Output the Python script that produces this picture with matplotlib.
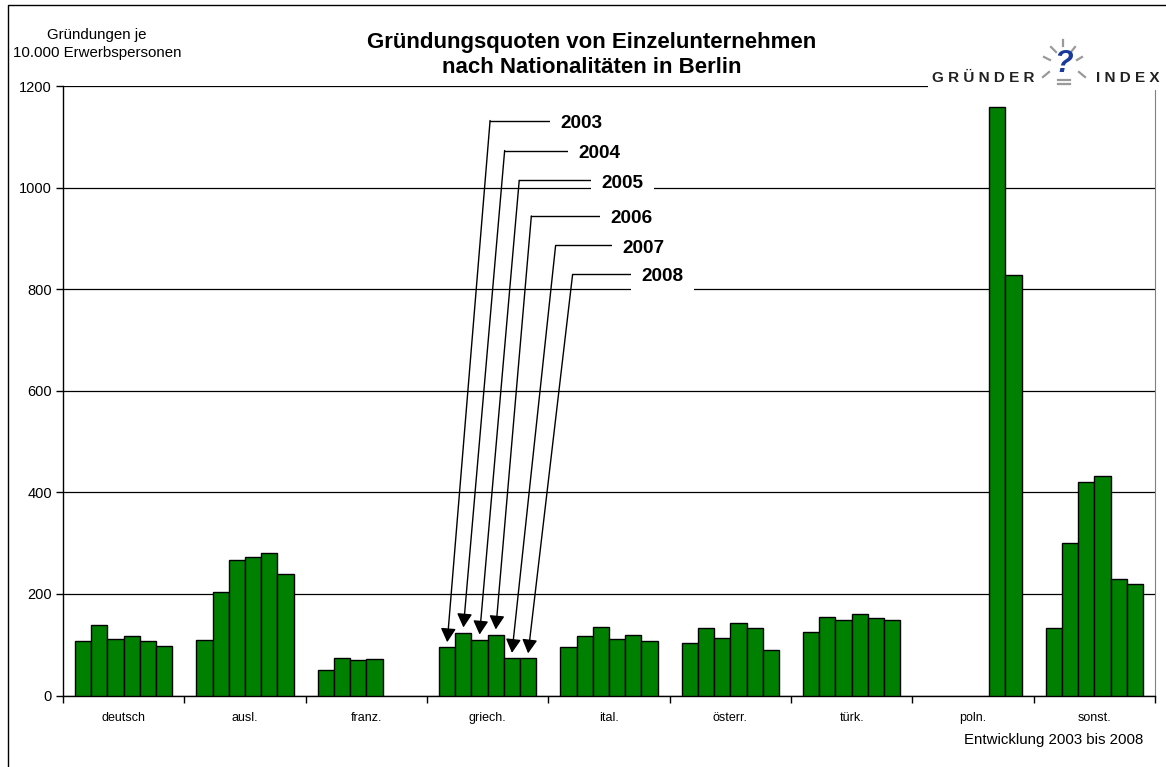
import numpy as np
import matplotlib.pyplot as plt
from matplotlib.lines import Line2D

plt.rcParams['font.family'] = ['Liberation Sans', 'DejaVu Sans']

# %% Data
categories = ['deutsch', 'ausl.', 'franz.', 'griech.', 'ital.', 'österr.', 'türk.', 'poln.', 'sonst.']
years = ['2003', '2004', '2005', '2006', '2007', '2008']
nan = np.nan
v2003 = [108, 109, 51, 95, 95, 103, 126, nan, 133]
v2004 = [138, 203, 73, 124, 118, 132, 155, nan, 300]
v2005 = [111, 267, 70, 110, 134, 114, 149, nan, 421]
v2006 = [117, 273, 72, 120, 112, 142, 160, nan, 433]
v2007 = [107, 280, nan, 74, 120, 132, 153, 1158, 229]
v2008 = [97, 239, nan, 73, 108, 90, 149, 828, 219]
series = [v2003, v2004, v2005, v2006, v2007, v2008]

# year labels: (start of leader line, end of leader line / label box, height) in data units
label_pos = [(3.02, 3.51, 1132), (3.14, 3.66, 1073), (3.26, 3.85, 1014),
             (3.36, 3.92, 944), (3.56, 4.02, 886), (3.70, 4.18, 829)]
arrow_cat = categories.index('griech.')

# %% Figure
W, H = 1166, 767
fig = plt.figure(figsize=(W / 100, H / 100), dpi=100)
ax = fig.add_axes([63 / W, 1 - 695.5 / H, (1155 - 63) / W, (695.5 - 86) / H])

x = np.arange(len(categories))
w = 1 / 7.5
for j, vals in enumerate(series):
    vals = np.array(vals, dtype=float)
    ok = ~np.isnan(vals)
    ax.bar(x[ok] + (j - 2.5) * w, vals[ok], width=w, color='#008000',
           edgecolor='black', linewidth=1, zorder=3)

ax.set_xlim(-0.5, len(categories) - 0.5)
ax.set_ylim(0, 1200)
ax.set_yticks(range(0, 1201, 200))
ax.yaxis.grid(True, color='black', linewidth=0.9, zorder=0)
ax.set_axisbelow(True)
ax.set_xticks(x)
ax.set_xticklabels(categories, fontsize=9)
ax.set_xticks(np.arange(-0.5, len(categories), 1), minor=True)
ax.tick_params(axis='x', which='major', length=0, pad=12)
ax.tick_params(axis='x', which='minor', length=5, direction='out', width=1)
ax.tick_params(axis='y', length=5, direction='out', width=1, labelsize=10.5, pad=3)
ax.spines['top'].set_visible(False)
ax.spines['right'].set_color('#808080')
ax.spines['left'].set_linewidth(1)
ax.spines['bottom'].set_linewidth(1)

# year arrows onto the griech. bars
for j, (xs, xe, yl) in enumerate(label_pos):
    tip = (arrow_cat + (j - 2.5) * w, series[j][arrow_cat] + 10)
    ax.plot([xs, xe], [yl, yl], color='black', linewidth=1, zorder=5)
    ax.annotate('', xy=tip, xytext=(xs, yl),
                arrowprops=dict(arrowstyle='-|>,head_length=0.6,head_width=0.33', color='black', lw=1,
                                mutation_scale=14, shrinkA=0, shrinkB=0),
                zorder=5)
    ax.text(xe + 0.09, yl - 5, years[j], fontsize=13.7, fontweight='bold', ha='left', va='center',
            zorder=6, bbox=dict(boxstyle='square,pad=0.55', fc='white', ec='none'))

# %% Texts around the plot
fig.text(592 / W, 1 - 55 / H, 'Gründungsquoten von Einzelunternehmen\nnach Nationalitäten in Berlin',
         ha='center', va='center', fontsize=16, fontweight='bold', linespacing=1.25)
fig.text(97 / W, 1 - 44 / H, 'Gründungen je\n10.000 Erwerbspersonen', ha='center', va='center',
         fontsize=10.8, linespacing=1.35)
fig.text(1143 / W, 1 - 740 / H, 'Entwicklung 2003 bis 2008', ha='right', va='center', fontsize=10.8)

# logo
fig.patches.append(plt.Rectangle((928 / W, 1 - 90 / H), 240 / W, 32 / H, transform=fig.transFigure,
                                 fc='white', ec='none', zorder=10))
fig.text(983 / W, 1 - 78 / H, 'G R Ü N D E R', ha='center', va='center', fontsize=11,
         fontweight='bold', color='#222222', zorder=11)
fig.text(1128 / W, 1 - 78 / H, 'I N D E X', ha='center', va='center', fontsize=11,
         fontweight='bold', color='#222222', zorder=11)
fig.text(1064 / W, 1 - 64 / H, '?', ha='center', va='center', fontsize=22, fontweight='bold',
         style='italic', color='#1a3a9a', zorder=11)
rays = [((1044, 1050), (57, 60)), ((1051, 1056), (47, 52)), ((1063, 1063), (40, 46)),
        ((1075, 1071), (47, 52)), ((1082, 1077), (57, 60)), ((1043, 1049), (77, 72)),
        ((1085, 1079), (77, 72)), ((1058, 1070), (80, 80)), ((1058, 1070), (84, 84))]
for xs, ys in rays:
    fig.lines.append(Line2D([v / W for v in xs], [1 - v / H for v in ys], transform=fig.transFigure,
                            color='#9a9a9a', linewidth=1.6, zorder=11))

# outer frame (left and top edge visible)
fig.lines.append(Line2D([8 / W, 8 / W, 1], [0, 1 - 5 / H, 1 - 5 / H], transform=fig.transFigure,
                        color='black', linewidth=1))

fig.savefig('out.png', dpi=100)
